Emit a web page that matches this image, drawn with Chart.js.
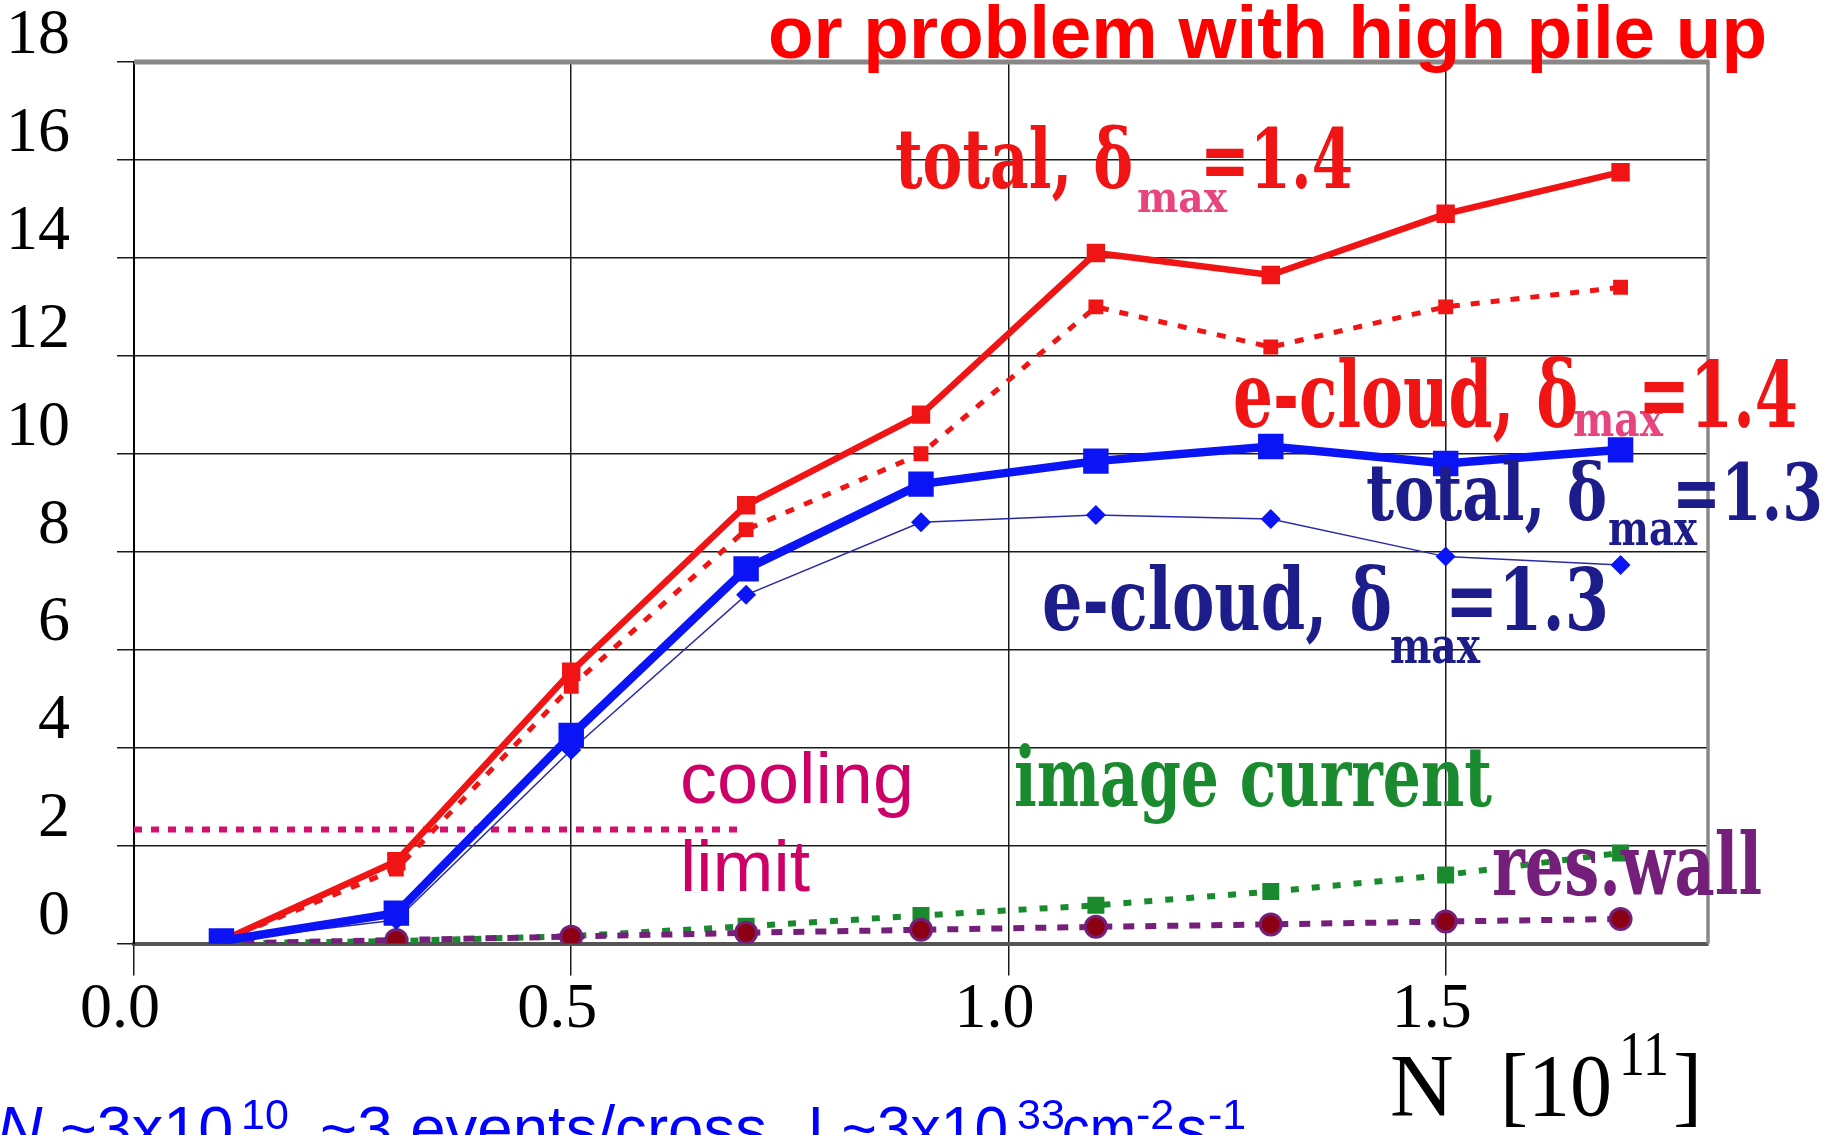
<!DOCTYPE html>
<html>
<head>
<meta charset="utf-8">
<script src="https://cdn.jsdelivr.net/npm/chart.js@4.4.1/dist/chart.umd.min.js"></script>
<style>
  html, body { margin: 0; padding: 0; background: #fff; }
  #wrap { width: 1831px; height: 1135px; position: relative; }
</style>
</head>
<body>
<div id="wrap"><canvas id="heatChart" width="1831" height="1135"></canvas></div>
<script>
// Bunch population N [10^11]
const xValues = [0.1, 0.3, 0.5, 0.7, 0.9, 1.1, 1.3, 1.5, 1.7];

// Heat load per series
const totalD14 = [0.05, 1.68, 5.55, 8.95, 10.8, 14.1, 13.65, 14.9, 15.75];
const ecloudD14 = [0.05, 1.52, 5.25, 8.45, 10.0, 13.0, 12.18, 13.0, 13.4];
const totalD13 = [0.05, 0.62, 4.25, 7.65, 9.38, 9.85, 10.15, 9.8, 10.08];
const ecloudD13 = [0.05, 0.48, 3.95, 7.12, 8.6, 8.75, 8.67, 7.9, 7.73];
const imageCurrent = [0.0, 0.05, 0.15, 0.35, 0.57, 0.78, 1.06, 1.4, 1.85];
const resWall = [0.0, 0.07, 0.14, 0.22, 0.28, 0.34, 0.39, 0.45, 0.5];

// Cooling limit (horizontal segment)
const coolingX = [0, 0.69];
const coolingLimit = 2.33;

// Ticks
const xTickValues = [0, 0.5, 1.0, 1.5];
const xTickLabels = ["0.0", "0.5", "1.0", "1.5"];
const yTickValues = [0, 2, 4, 6, 8, 10, 12, 14, 16, 18];
const yTickLabels = ["0", "2", "4", "6", "8", "10", "12", "14", "16", "18"];

const toPoints = (ys) => xValues.map((x, i) => ({ x: x, y: ys[i] }));

const RED = "#f01414";
const BLUE = "#0a14f5";
const NAVY = "#1c1c8a";
const GREEN = "#1a8a2e";
const PURPLE = "#74207a";
const PINK = "#e8457e";

// Text drawn onto the canvas (annotations as on the slide)
function fitText(ctx, s) {
  ctx.save();
  ctx.font = (s.italic ? "italic " : "") + (s.weight || "normal") + " " + s.size + "px " + s.family;
  ctx.fillStyle = s.color;
  ctx.textBaseline = "alphabetic";
  ctx.textAlign = "left";
  const m = ctx.measureText(s.text).width;
  ctx.translate(s.x, s.y);
  if (s.w) ctx.scale(s.w / m, 1);
  ctx.fillText(s.text, 0, 0);
  ctx.restore();
}

const SERIF_B = "'DejaVu Serif'";
const SANS = "'Liberation Sans', Arial";
const TIMES = "'Liberation Serif'";
const annotations = [
  // title
  { text: "or problem with high pile up", x: 768, y: 58, w: 999, size: 74, weight: "bold", family: SANS, color: "#ff0000" },
  // total, delta 1.4
  { text: "total, \u03b4", x: 895, y: 188, w: 238, size: 83, weight: "bold", family: SERIF_B, color: RED },
  { text: "max", x: 1137, y: 212, w: 90, size: 42, weight: "bold", family: SERIF_B, color: PINK },
  { text: "=1.4", x: 1200, y: 188, w: 153, size: 83, weight: "bold", family: SERIF_B, color: RED },
  // e-cloud, delta 1.4
  { text: "e-cloud, \u03b4", x: 1233, y: 427, w: 345, size: 92, weight: "bold", family: SERIF_B, color: RED },
  { text: "max", x: 1573, y: 436, w: 90, size: 48, weight: "bold", family: SERIF_B, color: PINK },
  { text: "=1.4", x: 1638, y: 427, w: 160, size: 92, weight: "bold", family: SERIF_B, color: RED },
  // total, delta 1.3
  { text: "total, \u03b4", x: 1366, y: 520, w: 241, size: 79, weight: "bold", family: SERIF_B, color: NAVY },
  { text: "max", x: 1608, y: 545, w: 89, size: 48, weight: "bold", family: SERIF_B, color: NAVY },
  { text: "=1.3", x: 1672, y: 520, w: 151, size: 79, weight: "bold", family: SERIF_B, color: NAVY },
  // e-cloud, delta 1.3
  { text: "e-cloud, \u03b4", x: 1042, y: 630, w: 350, size: 86, weight: "bold", family: SERIF_B, color: NAVY },
  { text: "max", x: 1390, y: 663, w: 90, size: 50, weight: "bold", family: SERIF_B, color: NAVY },
  { text: "=1.3", x: 1445, y: 630, w: 164, size: 86, weight: "bold", family: SERIF_B, color: NAVY },
  // other labels
  { text: "image current", x: 1014, y: 806, w: 478, size: 82, weight: "bold", family: SERIF_B, color: GREEN },
  { text: "res.wall", x: 1492, y: 895, w: 270, size: 86, weight: "bold", family: SERIF_B, color: PURPLE },
  { text: "cooling", x: 680, y: 803, w: 234, size: 72, family: SANS, color: "#cc0066" },
  { text: "limit", x: 680, y: 891, w: 130, size: 72, family: SANS, color: "#cc0066" },
  // axis title
  { text: "N", x: 1390, y: 1115, size: 88, family: TIMES, color: "#000" },
  { text: "[10", x: 1500, y: 1115, w: 112, size: 88, family: TIMES, color: "#000" },
  { text: "11", x: 1619, y: 1075, w: 50, size: 63, family: TIMES, color: "#000" },
  { text: "]", x: 1673, y: 1115, size: 88, family: TIMES, color: "#000" },
  // bottom note (cut off by the slide edge)
  { text: "N", x: -3, y: 1150, size: 63, italic: true, family: SANS, color: "#0000ff" },
  { text: "~3x10", x: 60, y: 1150, size: 63, family: SANS, color: "#0000ff" },
  { text: "10", x: 241, y: 1129, size: 43, family: SANS, color: "#0000ff" },
  { text: "~3 events/cross", x: 320, y: 1150, w: 447, size: 63, family: SANS, color: "#0000ff" },
  { text: "L~3x10", x: 808, y: 1150, w: 200, size: 63, family: SANS, color: "#0000ff" },
  { text: "33", x: 1017, y: 1129, size: 43, family: SANS, color: "#0000ff" },
  { text: "cm", x: 1062, y: 1150, w: 74, size: 63, family: SANS, color: "#0000ff" },
  { text: "-2", x: 1136, y: 1129, size: 43, family: SANS, color: "#0000ff" },
  { text: "s", x: 1176, y: 1150, size: 63, family: SANS, color: "#0000ff" },
  { text: "-1", x: 1208, y: 1129, size: 43, family: SANS, color: "#0000ff" },
];

// Top and right frame lines, plus text
const framePlugin = {
  id: "frame",
  beforeDatasetsDraw(chart) {
    const { ctx, chartArea } = chart;
    ctx.save();
    ctx.strokeStyle = "#888";
    ctx.lineWidth = 5;
    ctx.beginPath();
    ctx.moveTo(chartArea.left, chartArea.top);
    ctx.lineTo(chartArea.right + 1.5, chartArea.top);
    ctx.stroke();
    ctx.lineWidth = 3.5;
    ctx.beginPath();
    ctx.moveTo(chartArea.right, chartArea.top);
    ctx.lineTo(chartArea.right, chartArea.bottom);
    ctx.stroke();
    ctx.restore();
  },
  afterDraw(chart) {
    annotations.forEach((a) => fitText(chart.ctx, a));
  },
};

const ctx = document.getElementById("heatChart").getContext("2d");
new Chart(ctx, {
  type: "line",
  data: {
    datasets: [
      {
        label: "image current",
        data: toPoints(imageCurrent),
        borderColor: GREEN,
        borderWidth: 6,
        borderDash: [8, 13],
        pointStyle: "rect",
        pointRadius: 12,
        pointBackgroundColor: GREEN,
        pointBorderWidth: 0,
        order: 7,
      },
      {
        label: "res.wall",
        data: toPoints(resWall),
        borderColor: PURPLE,
        borderWidth: 6,
        borderDash: [11, 11],
        pointStyle: "circle",
        pointRadius: 10.5,
        pointBackgroundColor: "#8b0012",
        pointBorderColor: PURPLE,
        pointBorderWidth: 3,
        order: 6,
      },
      {
        label: "cooling limit",
        data: coolingX.map((x) => ({ x: x, y: coolingLimit })),
        borderColor: "#d4106e",
        borderWidth: 6,
        borderDash: [8, 9],
        pointRadius: 0,
        order: 5,
      },
      {
        label: "e-cloud, dmax=1.4",
        data: toPoints(ecloudD14),
        borderColor: RED,
        borderWidth: 5,
        borderDash: [9, 11],
        pointStyle: "rect",
        pointRadius: 10.5,
        pointBackgroundColor: RED,
        pointBorderWidth: 0,
        order: 4,
      },
      {
        label: "total, dmax=1.4",
        data: toPoints(totalD14),
        borderColor: RED,
        borderWidth: 6.5,
        pointStyle: "rect",
        pointRadius: 13,
        pointBackgroundColor: RED,
        pointBorderWidth: 0,
        order: 3,
      },
      {
        label: "e-cloud, dmax=1.3",
        data: toPoints(ecloudD13),
        borderColor: "#2a2aa8",
        borderWidth: 1.5,
        pointStyle: "rectRot",
        pointRadius: 10,
        pointBackgroundColor: BLUE,
        pointBorderWidth: 0,
        order: 2,
      },
      {
        label: "total, dmax=1.3",
        data: toPoints(totalD13),
        borderColor: BLUE,
        borderWidth: 8.5,
        pointStyle: "rect",
        pointRadius: 18,
        pointBackgroundColor: BLUE,
        pointBorderWidth: 0,
        order: 1,
      },
    ],
  },
  options: {
    responsive: false,
    animation: false,
    devicePixelRatio: 1,
    layout: { padding: { top: 62, right: 123, left: 0, bottom: 0 } },
    elements: { line: { tension: 0 } },
    plugins: {
      legend: { display: false },
      tooltip: { enabled: false },
    },
    scales: {
      x: {
        type: "linear",
        min: 0,
        max: 1.8,
        afterBuildTicks: (axis) => {
          axis.ticks = xTickValues.map((v) => ({ value: v }));
        },
        afterFit: (axis) => {
          axis.height = 191.5;
          axis.paddingLeft = 0;
          axis.paddingRight = 0;
        },
        ticks: {
          callback: (v, i) => xTickLabels[i],
          font: { family: TIMES, size: 64 },
          color: "#000",
          padding: -4,
          labelOffset: -14,
          maxRotation: 0,
        },
        grid: { color: "#1a1a1a", lineWidth: 1.5, tickLength: 32 },
        border: { color: "#555", width: 4 },
      },
      y: {
        min: 0,
        max: 18,
        afterBuildTicks: (axis) => {
          axis.ticks = yTickValues.map((v) => ({ value: v }));
        },
        afterFit: (axis) => {
          axis.width = 134;
          axis.paddingTop = 0;
          axis.paddingBottom = 0;
        },
        ticks: {
          callback: (v, i) => yTickLabels[i],
          font: { family: TIMES, size: 64 },
          color: "#000",
          padding: 47,
          labelOffset: -26,
        },
        grid: { color: "#1a1a1a", lineWidth: 1.5, tickLength: 17 },
        border: { color: "#000", width: 2 },
      },
    },
  },
  plugins: [framePlugin],
});
</script>
</body>
</html>
